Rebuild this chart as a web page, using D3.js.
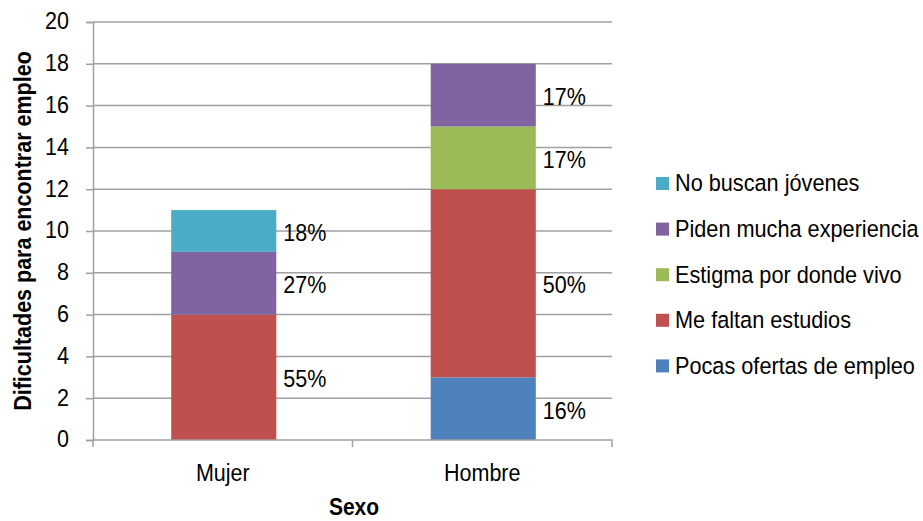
<!DOCTYPE html>
<html>
<head>
<meta charset="utf-8">
<script src="https://cdn.jsdelivr.net/npm/d3@7"></script>
<style>
  body { margin: 0; background: #fff; }
  svg text { fill: #000; }
</style>
</head>
<body>
<svg class="chart" width="923" height="521"></svg>
<script>
const categories = ['Mujer', 'Hombre'];
const seriesNames = ['Pocas ofertas de empleo', 'Me faltan estudios', 'Estigma por donde vivo', 'Piden mucha experiencia', 'No buscan jóvenes'];
const pocasOfertas = [0, 3];
const faltanEstudios = [6, 9];
const estigma = [0, 3];
const pidenExperiencia = [3, 3];
const noBuscanJovenes = [2, 0];
// percentage labels as printed on the chart
const pctPocas = ['', '16%'];
const pctFaltan = ['55%', '50%'];
const pctEstigma = ['', '17%'];
const pctPiden = ['27%', '17%'];
const pctNoBuscan = ['18%', ''];
const yTicks = [0, 2, 4, 6, 8, 10, 12, 14, 16, 18, 20];

const colors = ['#4F81BD', '#C0504D', '#9BBB59', '#8064A2', '#4BACC6'];
const values = [pocasOfertas, faltanEstudios, estigma, pidenExperiencia, noBuscanJovenes];
const pcts = [pctPocas, pctFaltan, pctEstigma, pctPiden, pctNoBuscan];

const fs = 21.5;
const stretch = 1.13; // the original text is a bit taller than plain Arial

const rows = categories.map((c, i) => {
    const r = { cat: c };
    seriesNames.forEach((s, j) => { r[s] = values[j][i]; });
    return r;
});

const svg = d3.select('svg.chart').style('font-family', '"Liberation Sans", Arial, sans-serif');
const plotLeft = 93, plotRight = 612, plotTop = 22, plotBottom = 440;

const xScale = d3.scaleBand().domain(categories).range([plotLeft, plotRight]);
const yScale = d3.scaleLinear().domain([0, 20]).range([plotBottom, plotTop]);
const barW = xScale.bandwidth() * 0.405;

// gridlines
svg.append('g').selectAll('line').data(yTicks.filter(d => d > 0))
    .enter().append('line')
    .attr('x1', plotLeft).attr('x2', plotRight)
    .attr('y1', d => yScale(d)).attr('y2', d => yScale(d))
    .attr('stroke', '#a0a0a0').attr('stroke-width', 1.5);

const stacked = d3.stack().keys(seriesNames)(rows);

const layers = svg.append('g').selectAll('g').data(stacked)
    .enter().append('g')
    .attr('fill', (d, i) => colors[i]);

layers.selectAll('rect').data(d => d)
    .enter().append('rect')
    .attr('x', d => xScale(d.data.cat) + xScale.bandwidth() / 2 - barW / 2 + 1)
    .attr('y', d => yScale(d[1]))
    .attr('width', barW)
    .attr('height', d => yScale(d[0]) - yScale(d[1]));

// percentage labels
stacked.forEach((layer, j) => {
    layer.forEach((d, i) => {
        if (d[1] - d[0] <= 0) return;
        svg.append('text')
            .attr('x', xScale(d.data.cat) + xScale.bandwidth() / 2 + barW / 2 + 8)
            .attr('y', yScale((d[0] + d[1]) / 2) + 10)
            .style('font-size', fs + 'px')
            .text(pcts[j][i]);
    });
});

// y axis
const yAxis = svg.append('g')
    .attr('transform', `translate(${plotLeft},0)`)
    .call(d3.axisLeft(yScale).tickValues(yTicks).tickSize(7).tickPadding(17));
yAxis.selectAll('line, path').attr('stroke', '#a0a0a0').attr('stroke-width', 1.5);
yAxis.selectAll('text').style('font-size', fs + 'px').attr('font-family', null)
    .attr('fill', '#000').attr('dy', '0.28em');

// x axis
const xAxis = svg.append('g')
    .attr('transform', `translate(0,${plotBottom})`)
    .call(d3.axisBottom(xScale).tickSize(0).tickPadding(0));
xAxis.select('.domain').attr('stroke', '#a0a0a0').attr('stroke-width', 1.5)
    .attr('d', `M${plotLeft},7V0H${plotRight}V7`);
xAxis.selectAll('.tick text').attr('y', 41).attr('dy', null)
    .style('font-size', fs + 'px').attr('font-family', null).attr('fill', '#000');
xAxis.selectAll('.tick line').remove();
xAxis.append('line')
    .attr('x1', (plotLeft + plotRight) / 2).attr('x2', (plotLeft + plotRight) / 2)
    .attr('y1', 0).attr('y2', 7)
    .attr('stroke', '#a0a0a0').attr('stroke-width', 1.5);

// axis titles
svg.append('text')
    .attr('class', 'ytitle')
    .attr('transform', `translate(31,${(plotTop + plotBottom) / 2}) rotate(-90) scale(1,${stretch})`)
    .attr('text-anchor', 'middle')
    .style('font-size', '21.5px').style('font-weight', 'bold')
    .text('Dificultades para encontrar empleo');

svg.append('text')
    .attr('x', 354).attr('y', 515)
    .attr('text-anchor', 'middle')
    .style('font-size', '21px').style('font-weight', 'bold')
    .text('Sexo');

// legend (top to bottom is reverse of stack order)
const legend = svg.append('g').attr('transform', 'translate(656,183.5)')
    .selectAll('g').data(seriesNames.slice().reverse())
    .enter().append('g')
    .attr('transform', (d, i) => `translate(0,${i * 45.6})`);
legend.append('rect')
    .attr('x', 0).attr('y', -6.5).attr('width', 13).attr('height', 13)
    .attr('fill', d => colors[seriesNames.indexOf(d)]);
legend.append('text')
    .attr('x', 19).attr('y', 0).attr('dy', '0.32em')
    .style('font-size', '21.7px')
    .text(d => d);

// stretch every horizontal text vertically around its own baseline point
svg.selectAll('text').filter(function () { return !this.classList.contains('ytitle'); })
    .each(function () {
        const t = d3.select(this);
        const x = +t.attr('x') || 0, y = +t.attr('y') || 0;
        t.attr('transform', `translate(${x},${y}) scale(1,${stretch}) translate(${-x},${-y})`);
    });
</script>
</body>
</html>
